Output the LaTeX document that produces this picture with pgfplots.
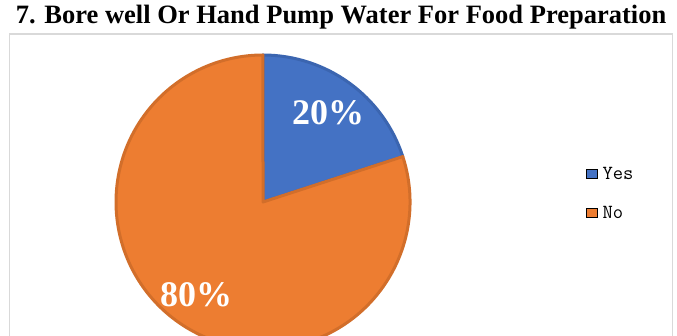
\documentclass[border=0pt]{standalone}
\usepackage{pgfplots}
\pgfplotsset{compat=1.18}
\usepackage{pgfplotstable}
\usepackage{fontspec}
\setmainfont{Liberation Serif}
\definecolor{cYes}{HTML}{4472C4}
\definecolor{cNo}{HTML}{ED7D31}
\definecolor{eYes}{HTML}{3B65B0}
\definecolor{eNo}{HTML}{D26E2A}
\definecolor{boxc}{HTML}{D9D9D9}
\pgfplotstableread{
label value
Yes 20
No 80
}\piedata
\newcommand{\legfont}{\fontsize{20}{22}\selectfont\ttfamily}
\begin{document}
\begin{tikzpicture}[x=1pt,y=1pt]
\clip (0,0) rectangle (677,336);
\pgfplotstablegetelem{0}{value}\of\piedata \let\vYes\pgfplotsretval
\pgfplotstablegetelem{1}{value}\of\piedata \let\vNo\pgfplotsretval
\pgfmathsetmacro{\tot}{\vYes+\vNo}
\pgfmathsetmacro{\aMid}{90-\vYes/\tot*360}
\pgfmathsetmacro{\aEnd}{\aMid-\vNo/\tot*360}
\begin{axis}[
  at={(0pt,0pt)}, anchor=south west,
  scale only axis, width=677pt, height=336pt,
  xmin=0, xmax=677, ymin=0, ymax=336,
  hide axis, clip=false,
  legend style={at={(axis cs:586,171)}, anchor=north west, draw=none, fill=none,
    row sep=21pt, inner sep=0pt, cells={anchor=west}},
  legend image code/.code={\fill[#1] (0pt,-4.5pt) rectangle (11pt,5pt);},
]
\addlegendimage{fill=cYes}
\addlegendentry{\hspace{3pt}\legfont Yes}
\addlegendimage{fill=cNo}
\addlegendentry{\hspace{3pt}\legfont No}
\draw[boxc, line width=1.2pt] (axis cs:9.5,302) rectangle (axis cs:672.5,-10);
\filldraw[fill=cYes, draw=eYes, line width=3pt, line join=round]
  (axis cs:263,134) -- ++(90:147pt) arc[start angle=90, end angle=\aMid, radius=147pt] -- cycle;
\filldraw[fill=cNo, draw=eNo, line width=3pt, line join=round]
  (axis cs:263,134) -- ++(\aMid:147pt) arc[start angle=\aMid, end angle=\aEnd, radius=147pt] -- cycle;
\node[white, font=\bfseries\fontsize{36}{36}\selectfont] at (axis cs:328,223) {20\%};
\node[white, font=\bfseries\fontsize{36}{36}\selectfont] at (axis cs:196,41) {80\%};
\node[anchor=base, font=\bfseries\fontsize{26.5}{26.5}\selectfont] at (axis cs:341,312) {7. Bore well Or Hand Pump Water For Food Preparation};
\end{axis}
\end{tikzpicture}
\end{document}
